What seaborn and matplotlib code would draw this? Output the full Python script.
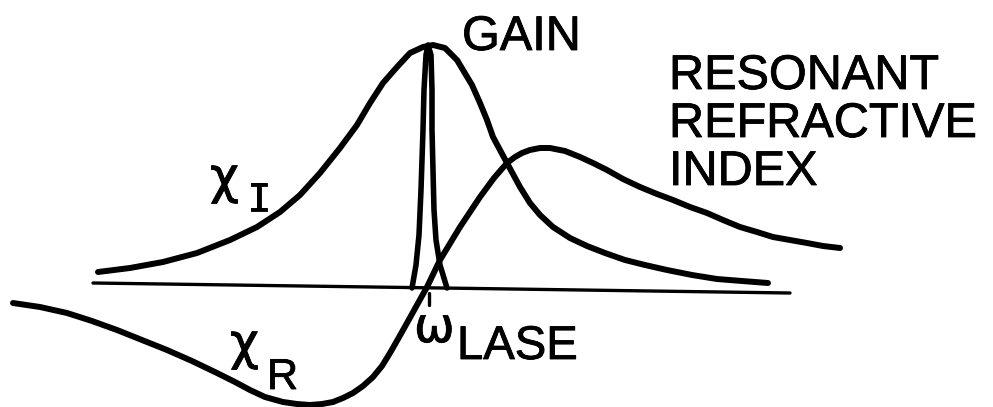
import matplotlib
matplotlib.use("Agg")
import matplotlib.pyplot as plt
import matplotlib.patheffects as pe
import seaborn as sns

# Frequency detuning from the lasing line (arbitrary units) and response values
chi_i_freq = [-3.32, -3.00, -2.67, -2.33, -2.00, -1.73, -1.50, -1.30, -1.10, -0.90,
              -0.73, -0.60, -0.47, -0.33, -0.20, -0.07, 0.03, 0.15, 0.27, 0.33,
              0.42, 0.50, 0.57, 0.63, 0.70, 0.77, 0.90, 1.00, 1.10, 1.23,
              1.40, 1.57, 1.75, 1.95, 2.15, 2.37, 2.62, 2.87, 3.12, 3.38]
chi_i_vals = [0.18, 0.22, 0.28, 0.37, 0.50, 0.63, 0.78, 0.95, 1.17, 1.42,
              1.65, 1.87, 2.07, 2.23, 2.37, 2.43, 2.45, 2.42, 2.30, 2.20,
              2.05, 1.87, 1.70, 1.53, 1.40, 1.27, 1.03, 0.87, 0.75, 0.63,
              0.52, 0.44, 0.37, 0.30, 0.25, 0.20, 0.15, 0.11, 0.09, 0.07]

chi_r_freq = [-4.17, -3.90, -3.63, -3.38, -3.13, -2.88, -2.63, -2.38, -2.13, -1.95,
              -1.80, -1.65, -1.47, -1.33, -1.20, -1.08, -0.97, -0.87, -0.77, -0.67,
              -0.57, -0.48, -0.40, -0.32, -0.23, -0.13, -0.03, 0.10, 0.30, 0.50,
              0.64, 0.77, 0.85, 0.92, 1.00, 1.10, 1.20, 1.35, 1.50, 1.63,
              1.77, 1.93, 2.10, 2.27, 2.43, 2.60, 2.77, 2.93, 3.10, 3.27,
              3.43, 3.60, 3.77, 3.93, 4.10]
chi_r_vals = [-0.13, -0.17, -0.23, -0.31, -0.40, -0.50, -0.60, -0.71, -0.83, -0.92,
              -1.00, -1.07, -1.12, -1.14, -1.15, -1.14, -1.12, -1.08, -1.03, -0.96,
              -0.87, -0.76, -0.63, -0.49, -0.33, -0.15, 0.03, 0.30, 0.63, 0.93,
              1.12, 1.27, 1.33, 1.37, 1.40, 1.42, 1.42, 1.39, 1.33, 1.27,
              1.20, 1.11, 1.03, 0.96, 0.90, 0.83, 0.77, 0.70, 0.63, 0.58,
              0.53, 0.50, 0.47, 0.44, 0.42]

gain_freq = [-0.18, -0.14, -0.11, -0.09, -0.07, -0.06, -0.04, -0.02,
             0.01, 0.02, 0.02, 0.03, 0.04, 0.06, 0.10, 0.17]
gain_vals = [0.02, 0.25, 0.55, 1.00, 1.60, 2.00, 2.35, 2.45,
             2.35, 2.00, 1.60, 1.20, 0.80, 0.50, 0.25, 0.02]

axis_freq = [-3.37, 3.60]
axis_vals = [0.07, -0.03]

lase_freq = [-0.01, -0.01]
lase_vals = [-0.03, -0.15]

sns.set_style("white")
plt.rcParams["font.family"] = ["Liberation Sans", "DejaVu Sans"]

fig = plt.figure(figsize=(9.93, 4.07), dpi=100)
ax = fig.add_axes([0, 0, 1, 1])

curve_kw = dict(sort=False, estimator=None, color="black", ax=ax, legend=False,
                solid_capstyle="round", solid_joinstyle="round")

sns.lineplot(x=axis_freq, y=axis_vals, lw=2.4, **curve_kw)
sns.lineplot(x=lase_freq, y=lase_vals, lw=2.4, **curve_kw)
sns.lineplot(x=chi_i_freq, y=chi_i_vals, lw=4.3, **curve_kw)
sns.lineplot(x=chi_r_freq, y=chi_r_vals, lw=4.3, **curve_kw)
sns.lineplot(x=gain_freq, y=gain_vals, lw=4.0, **curve_kw)

ax.set_xlim(-4.30, 5.63)
ax.set_ylim(-1.17, 2.90)
ax.axis("off")

heavy = [pe.withStroke(linewidth=0.6, foreground="black")]
label_kw = dict(color="black", ha="left", va="baseline", path_effects=heavy)
ax.text(0.32, 2.40, "GAIN", fontsize=35, **label_kw)
ax.text(2.39, 2.01, "RESONANT", fontsize=35, **label_kw)
ax.text(2.39, 1.53, "REFRACTIVE", fontsize=35, **label_kw)
ax.text(2.39, 1.05, "INDEX", fontsize=35, **label_kw)

ax.text(-2.20, 0.97, "χ", fontsize=36, family="DejaVu Sans", **label_kw)
ax.text(-1.83, 0.79, "I", fontsize=28, family="DejaVu Sans Mono", **label_kw)
ax.text(-2.00, -0.69, "χ", fontsize=36, family="DejaVu Sans", **label_kw)
ax.text(-1.63, -0.99, "R", fontsize=31, **label_kw)
ax.text(-0.16, -0.52, "ω", fontsize=35, family="DejaVu Sans", **label_kw)
ax.text(0.27, -0.69, "LASE", fontsize=34, **label_kw)

fig.savefig("out.png", dpi=100)
